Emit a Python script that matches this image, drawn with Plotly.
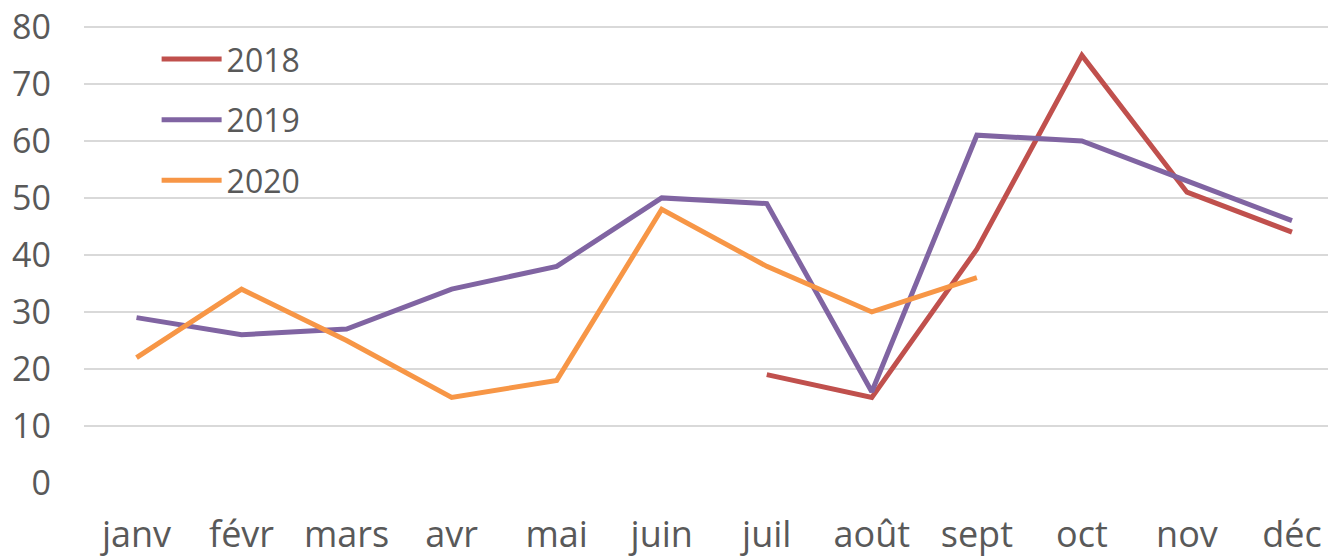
import plotly.graph_objects as go

months = ["janv", "févr", "mars", "avr", "mai", "juin", "juil", "août", "sept", "oct", "nov", "déc"]
s2018 = [None, None, None, None, None, None, 19, 15, 41, 75, 51, 44]
s2019 = [29, 26, 27, 34, 38, 50, 49, 16, 61, 60, 53, 46]
s2020 = [22, 34, 25, 15, 18, 48, 38, 30, 36, None, None, None]
y_ticks = [0, 10, 20, 30, 40, 50, 60, 70, 80]

colors = {"2018": "#C0504D", "2019": "#8064A2", "2020": "#F79646"}
FONT = "Open Sans"
TXT = "#595959"

fig = go.Figure()
for name, vals in [("2018", s2018), ("2019", s2019), ("2020", s2020)]:
    fig.add_trace(go.Scatter(
        x=list(range(len(months))), y=vals, name=name, mode="lines",
        legendgroup=name,
        line=dict(color=colors[name], width=5), connectgaps=False,
    ))

# page body has an 8px default margin, so the figure is sized to fit
fig.update_layout(
    width=1328, height=550,
    margin=dict(l=76, r=0, t=16, b=75, autoexpand=False),
    paper_bgcolor="white", plot_bgcolor="white",
    font=dict(family=FONT, size=33, color=TXT),
    showlegend=True,
    legend=dict(x=0.058, y=0.983, xanchor="left", yanchor="top",
                bgcolor="rgba(0,0,0,0)", font=dict(size=32, color=TXT),
                tracegroupgap=16, itemwidth=60),
    xaxis=dict(range=[-0.5, 11.5 - 8.5 / 105], tickmode="array",
               tickvals=list(range(len(months))), ticktext=months,
               showgrid=False, zeroline=False, showline=False, automargin=False,
               ticks="", ticklabelstandoff=27, fixedrange=True,
               ticklabeloverflow="allow", tickfont=dict(size=36)),
    yaxis=dict(range=[0, 80.5], tickmode="array", tickvals=y_ticks,
               ticktext=[str(v) for v in y_ticks],
               showgrid=True, gridcolor="#D9D9D9", gridwidth=1.5,
               zeroline=False, showline=False, ticks="", automargin=False,
               ticklabelstandoff=32, fixedrange=True,
               ticklabeloverflow="allow", tickfont=dict(size=34)),
)

fig.write_html("out.html")
